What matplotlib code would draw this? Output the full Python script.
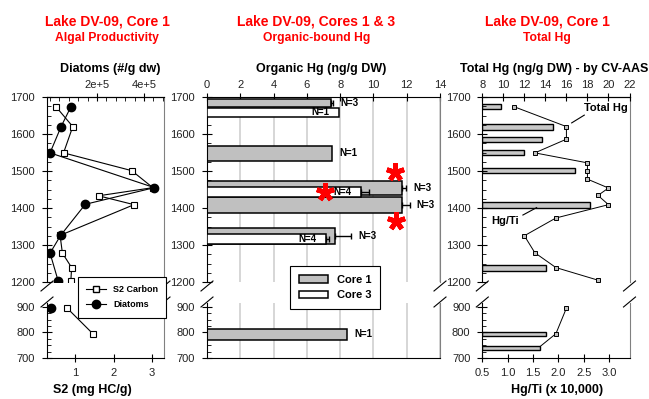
import numpy as np
import matplotlib.pyplot as plt
from matplotlib.lines import Line2D
from matplotlib.patches import Patch
from matplotlib.ticker import MultipleLocator, FixedLocator, FuncFormatter

plt.rcParams['font.family'] = ['Liberation Sans', 'DejaVu Sans']
plt.rcParams['axes.linewidth'] = 0.8

# ---- panel 1: algal productivity (core 1) ----
s2_depth = [1674, 1620, 1549, 1501, 1455, 1433, 1409, 1326, 1278, 1239, 1204, 897, 795]
s2_value = [0.50, 0.94, 0.70, 2.47, 3.02, 1.61, 2.53, 0.61, 0.67, 0.91, 0.89, 0.78, 1.46]
diatom_depth = [1674, 1620, 1549, 1455, 1410, 1326, 1278, 1204, 897]
diatom_value = [8.9e4, 4.7e4, 0, 4.44e5, 1.5e5, 4.5e4, 0, 3.4e4, 4e3]

# ---- panel 2: organic-bound Hg (cores 1 & 3) ----
core1_depth = [1684, 1548, 1454, 1408, 1324, 793]
core1_hg = [7.48, 7.54, 11.72, 11.72, 7.70, 8.44]
core1_err = [0.10, 0.0, 0.26, 0.46, 0.96, 0.0]
core1_span = [22, 40, 39, 41, 42, 43]
core1_n = ['N=3', 'N=1', 'N=3', 'N=3', 'N=3', 'N=1']
core3_depth = [1659, 1443, 1315]
core3_hg = [7.94, 9.24, 7.18]
core3_err = [0.0, 0.50, 0.16]
core3_span = [25, 25, 27]
core3_n = ['N=1', 'N=4', 'N=4']
star_hg = [11.30, 7.12, 11.38]
star_depth = [1498, 1444, 1366]

# ---- panel 3: total Hg (core 1) ----
ti_depth = [1674, 1619, 1586, 1549, 1501, 1408, 1238, 793, 738]
ti_ratio = [0.87, 1.89, 1.68, 1.32, 2.33, 2.63, 1.75, 1.75, 1.64]
thg_depth = [1674, 1620, 1586, 1549, 1522, 1501, 1478, 1454, 1434, 1409,
             1373, 1325, 1279, 1239, 1205, 895, 795, 745]
thg_value = [11.0, 16.0, 16.0, 13.0, 18.0, 18.0, 18.0, 20.0, 19.0, 20.0,
             15.0, 12.0, 13.0, 15.0, 19.0, 16.0, 15.0, 13.5]

W, H = 649, 399
fig = plt.figure(figsize=(W / 100, H / 100), dpi=100)


def px_axes(x0, x1, y0, y1):
    return fig.add_axes([x0 / W, 1 - y1 / H, (x1 - x0) / W, (y1 - y0) / H])


def ftext(x, y, s, **kw):
    fig.text(x / W, 1 - y / H, s, ha='center', va='baseline', fontweight='bold', **kw)


def slash(x, y):
    fig.add_artist(Line2D([(x - 6) / W, (x + 6) / W], [1 - (y + 5) / H, 1 - (y - 5) / H],
                          color='black', lw=0.8))


def split(depth, vals, cut=1000):
    d = np.asarray(depth, dtype=float)
    v = np.asarray(vals, dtype=float)
    return (d[d > cut], v[d > cut]), (d[d < cut], v[d < cut])


def make_panel(x0, x1):
    up = px_axes(x0, x1, 97, 282)
    lo = px_axes(x0, x1, 303, 358)
    up.set_ylim(1200, 1700)
    lo.set_ylim(700, 915)
    for ax in (up, lo):
        ax.spines['right'].set_color('#808080')
        ax.yaxis.set_major_locator(MultipleLocator(100))
        ax.yaxis.set_minor_locator(MultipleLocator(25))
    up.spines['bottom'].set_visible(False)
    lo.spines['top'].set_visible(False)
    for x in (x0, x1):
        slash(x, 286)
        slash(x, 302)
    return up, lo


def style_y(ax):
    ax.tick_params(axis='y', which='major', direction='inout', length=7, width=0.8,
                   labelsize=8, pad=5, right=False, labelcolor='#222222')
    ax.tick_params(axis='y', which='minor', direction='in', length=3, width=0.6, right=False)


def hide_twin(t, keep_top):
    for s in t.spines.values():
        s.set_visible(False)
    if keep_top:
        t.spines['top'].set_visible(True)


top_kw = dict(axis='x', which='major', direction='inout', length=6, width=0.8,
              labelsize=8, pad=2, top=True, labeltop=True, bottom=False,
              labelbottom=False, labelcolor='#222222')
bot_kw = dict(axis='x', which='major', direction='inout', length=6, width=0.8,
              labelsize=8, pad=4, bottom=True, labelbottom=True, top=False,
              labeltop=False, labelcolor='#222222')

# ================= panel 1 =================
p1_up, p1_lo = make_panel(47, 164)
p1_tup = p1_up.twiny()
p1_tlo = p1_lo.twiny()
for ax in (p1_up, p1_lo):
    ax.set_xlim(0.27, 3.31)
for t in (p1_tup, p1_tlo):
    t.set_xlim(-1.3e4, 4.85e5)
hide_twin(p1_tup, True)
hide_twin(p1_tlo, False)

for ax, (d, v) in zip((p1_up, p1_lo), split(s2_depth, s2_value)):
    ax.plot(v, d, color='black', lw=0.8, marker='s', ms=5, mfc='white', mec='black', mew=0.8)
for t, (d, v) in zip((p1_tup, p1_tlo), split(diatom_depth, diatom_value)):
    t.plot(v, d, color='black', lw=0.8, marker='o', ms=6, mfc='black', mec='black')

p1_tup.xaxis.set_major_locator(FixedLocator([2e5, 4e5]))
p1_tup.xaxis.set_major_formatter(FuncFormatter(lambda v, p: '%de+5' % round(v / 1e5)))
p1_tup.xaxis.set_minor_locator(MultipleLocator(4e4))
p1_tup.tick_params(**top_kw)
p1_tup.tick_params(axis='x', which='minor', direction='in', length=3, width=0.6, top=True)
p1_tlo.tick_params(axis='x', which='both', top=False, labeltop=False, bottom=False)
p1_up.tick_params(axis='x', which='both', bottom=False, labelbottom=False, top=False)
p1_lo.xaxis.set_major_locator(FixedLocator([1, 2, 3]))
p1_lo.tick_params(**bot_kw)
for ax in (p1_up, p1_lo):
    style_y(ax)

# ================= panel 2 =================
p2_up, p2_lo = make_panel(207, 440)
for ax in (p2_up, p2_lo):
    ax.set_xlim(0, 14)
    ax.xaxis.set_major_locator(MultipleLocator(2))
    ax.set_axisbelow(True)
    ax.grid(axis='x', color='#d0d0d0', lw=1.2)
    style_y(ax)
p2_up.xaxis.tick_top()
p2_up.tick_params(**top_kw)
p2_lo.tick_params(axis='x', which='both', bottom=False, labelbottom=False, top=False)

bar_kw = dict(edgecolor='black', lw=1.1)
for ax, (d, v), (_, sp), (_, er) in zip(
        (p2_up, p2_lo), split(core1_depth, core1_hg),
        split(core1_depth, core1_span), split(core1_depth, core1_err)):
    ax.barh(d, v, height=sp, color='#c0c0c0', **bar_kw)
    m = er > 0
    ax.errorbar(v[m], d[m], xerr=[np.zeros(m.sum()), er[m]], fmt='none',
                ecolor='black', elinewidth=1, capsize=2.5, capthick=1)
p2_up.barh(core3_depth, core3_hg, height=core3_span, color='white', zorder=3, **bar_kw)
c3_err = np.array(core3_err)
m3 = c3_err > 0
p2_up.errorbar(np.array(core3_hg)[m3], np.array(core3_depth)[m3],
               xerr=[np.zeros(m3.sum()), c3_err[m3]], fmt='none', ecolor='black',
               elinewidth=1, capsize=2.5, capthick=1, zorder=4)

for d, v, e, s in zip(core1_depth, core1_hg, core1_err, core1_n):
    ax = p2_up if d > 1000 else p2_lo
    ax.annotate(s, (v + e, d), xytext=(5, 0), textcoords='offset points',
                va='center', ha='left', fontsize=7, fontweight='bold', zorder=6)
for d, v, s in zip(core3_depth, core3_hg, core3_n):
    p2_up.annotate(s, (v, d), xytext=(-7, 0), textcoords='offset points',
                   va='center', ha='right', fontsize=7, fontweight='bold', zorder=6)

p2_up.plot(star_hg, star_depth, ls='none', marker=(5, 2, 0), ms=13, mew=3.5,
           color='red', zorder=10, clip_on=False)
p2_up.tick_params(axis='y', labelleft=True)

# ================= panel 3 =================
p3_up, p3_lo = make_panel(482.3, 629.5)
p3_tup = p3_up.twiny()
p3_tlo = p3_lo.twiny()
for ax in (p3_up, p3_lo):
    ax.set_xlim(0.5, 3.4)
for t in (p3_tup, p3_tlo):
    t.set_xlim(8, 22)
hide_twin(p3_tup, True)
hide_twin(p3_tlo, False)

for ax, (d, v) in zip((p3_up, p3_lo), split(ti_depth, ti_ratio)):
    ax.barh(d, v - 0.5, left=0.5, height=14, color='#c8c8c8', edgecolor='black', lw=1)
thg_split = split(thg_depth, thg_value)
for t, (d, v) in zip((p3_tup, p3_tlo), thg_split):
    t.plot(v, d, color='black', lw=0.7, marker='s', ms=3.5, mfc='#c0c0c0',
           mec='black', mew=0.7, markevery=list(range(len(d) if d.min() > 1000 else len(d) - 1)))

p3_tup.xaxis.set_major_locator(MultipleLocator(2))
p3_tup.tick_params(**top_kw)
p3_tlo.tick_params(axis='x', which='both', top=False, labeltop=False, bottom=False)
p3_up.tick_params(axis='x', which='both', bottom=False, labelbottom=False, top=False)
p3_lo.xaxis.set_major_locator(MultipleLocator(0.5))
p3_lo.xaxis.set_major_formatter(FuncFormatter(lambda v, p: '%.1f' % v))
p3_lo.tick_params(**bot_kw)
for ax in (p3_up, p3_lo):
    style_y(ax)

p3_tup.text(19.75, 1670, 'Total Hg', ha='center', va='center', fontsize=8, fontweight='bold')
p3_tup.plot([17.7, 16.5], [1651, 1630], color='black', lw=0.8)
p3_up.text(0.95, 1366, 'Hg/Ti', ha='center', va='center', fontsize=8, fontweight='bold')
p3_up.plot([1.30, 1.57], [1381, 1401], color='black', lw=0.8)

# ================= legends =================
h1 = [Line2D([], [], color='black', lw=0.8, marker='s', ms=5, mfc='white', mec='black'),
      Line2D([], [], color='black', lw=0.8, marker='o', ms=6, mfc='black', mec='black')]
leg1 = fig.legend(h1, ['S2 Carbon', 'Diatoms'], loc='upper left',
                  bbox_to_anchor=(78 / W, 1 - 277 / H), borderaxespad=0, fancybox=False,
                  edgecolor='black', framealpha=1, prop={'weight': 'bold', 'size': 6.5},
                  handlelength=2.2, borderpad=0.9, labelspacing=0.7)
leg1.get_frame().set_linewidth(0.8)
h2 = [Patch(facecolor='#c0c0c0', edgecolor='black', lw=1.1),
      Patch(facecolor='white', edgecolor='black', lw=1.1)]
leg2 = fig.legend(h2, ['Core 1', 'Core 3'], loc='upper left',
                  bbox_to_anchor=(290 / W, 1 - 266 / H), borderaxespad=0, fancybox=False,
                  edgecolor='black', framealpha=1, prop={'weight': 'bold', 'size': 8},
                  handlelength=2.6, handleheight=0.6, borderpad=0.8, labelspacing=0.5)
leg2.get_frame().set_linewidth(0.8)

# ================= titles and labels =================
red = '#ff0000'
for xc, l1, l2 in [(107, 'Lake DV-09, Core 1', 'Algal Productivity'),
                   (316.5, 'Lake DV-09, Cores 1 & 3', 'Organic-bound Hg'),
                   (547, 'Lake DV-09, Core 1', 'Total Hg')]:
    ftext(xc, 26, l1, fontsize=10, color=red)
    ftext(xc, 41.3, l2, fontsize=8.7, color=red)

ftext(110, 71.7, 'Diatoms (#/g dw)', fontsize=9)
ftext(321, 71.7, 'Organic Hg (ng/g DW)', fontsize=9)
ftext(554, 71.7, 'Total Hg (ng/g DW) - by CV-AAS', fontsize=9)
ftext(92, 392.5, 'S2 (mg HC/g)', fontsize=9)
ftext(557.5, 392.5, 'Hg/Ti (x 10,000)', fontsize=9)

fig.savefig('out.png', dpi=100)
